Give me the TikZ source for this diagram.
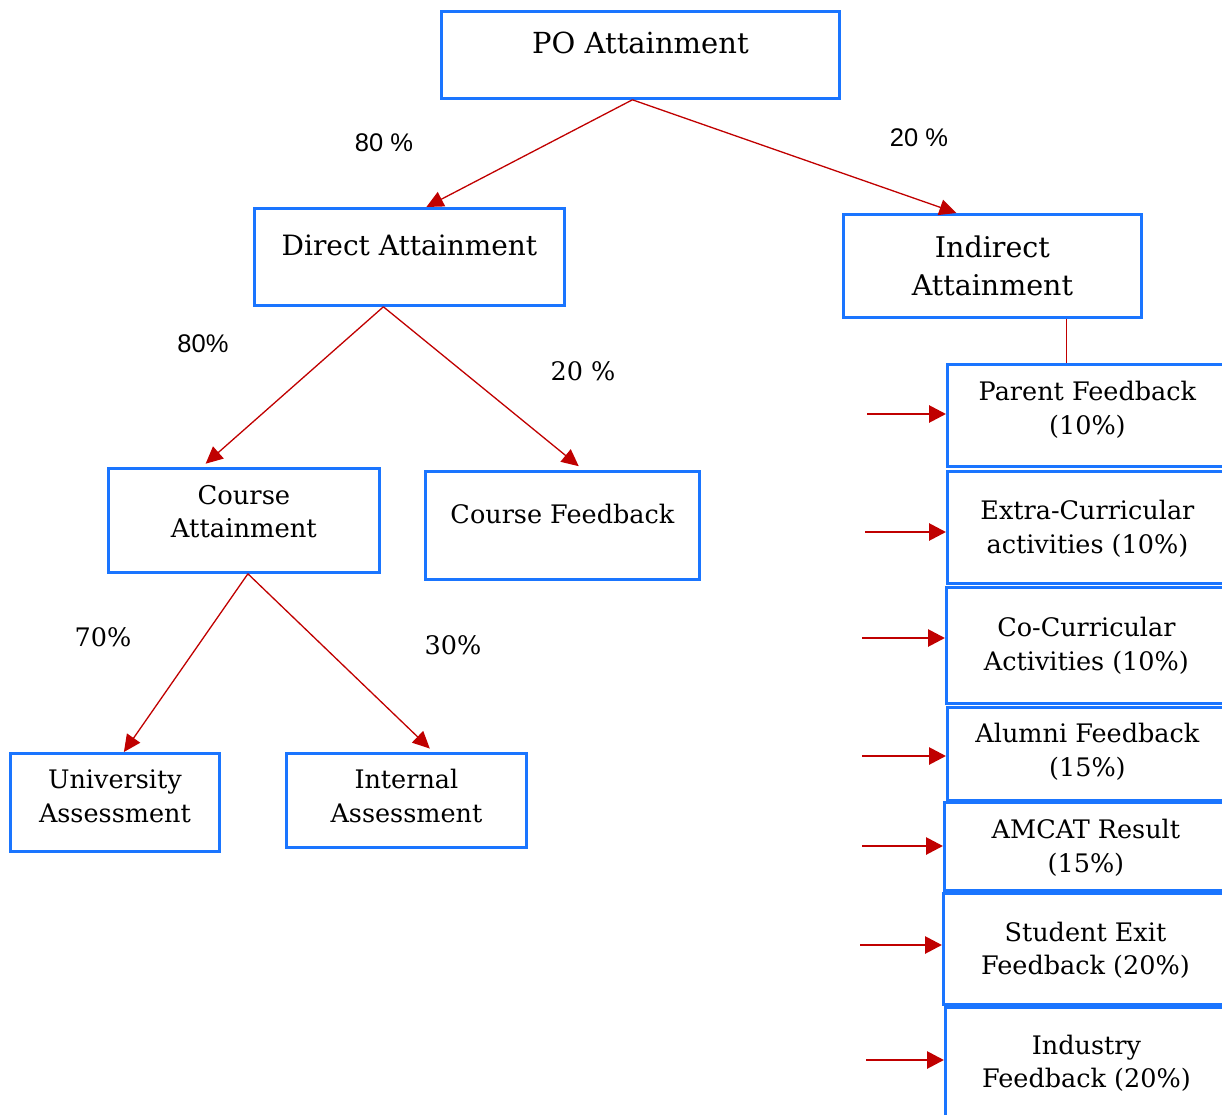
\documentclass[tikz,border=0pt]{standalone}
\usepackage{fontspec}
\setmainfont{DejaVu Serif}
\setsansfont{Liberation Sans}
\usetikzlibrary{positioning,arrows.meta}
\definecolor{boxblue}{RGB}{26,117,255}
\definecolor{arrred}{RGB}{192,0,0}
\newcommand{\boxfont}[2]{\fontsize{#1pt}{#2pt}\selectfont}
\newcommand{\twoline}[2]{\begin{tabular}[t]{@{}c@{}}#1\\#2\end{tabular}}
\tikzset{
  box/.style={draw=boxblue,line width=2.8pt,anchor=north west,inner xsep=0pt,inner ysep=0pt},
  tree/.style={draw=arrred,line width=1.3pt,-{Triangle[length=17pt,width=16pt]}},
  feed/.style={draw=arrred,line width=2.8pt,-{Triangle[length=17pt,width=17pt]}},
  pct/.style={font=\sffamily\boxfont{25.5}{30}},
  pctr/.style={font=\boxfont{25.5}{30}}
}
\begin{document}
\begin{tikzpicture}[x=1pt,y=-1pt]
\useasboundingbox (0,0) rectangle (1222,1115);
\clip (0,0) rectangle (1222,1115);
\node[box,minimum width=398pt,text height=42pt,text depth=45pt,font=\boxfont{29}{38}] (po) at (440,10) {PO Attainment};
\node[box,minimum width=310pt,text height=47pt,text depth=50pt,font=\boxfont{28}{36}] (dir) at (253,207) {Direct Attainment};
\node[box,minimum width=298pt,text height=43pt,text depth=60pt,font=\boxfont{28.5}{38}] (ind) at (842,213) {\twoline{Indirect}{Attainment}};
\node[box,minimum width=271pt,text height=36pt,text depth=68pt,font=\boxfont{25.8}{33}] (catt) at (107,467) {\twoline{Course}{Attainment}};
\node[box,minimum width=274pt,text height=52pt,text depth=56pt,font=\boxfont{25.5}{33}] (cfb) at (424,470) {Course Feedback};
\node[box,minimum width=209pt,text height=35pt,text depth=63pt,font=\boxfont{25.5}{34}] (univ) at (9,752) {\twoline{University}{Assessment}};
\node[box,minimum width=240pt,text height=35pt,text depth=59pt,font=\boxfont{25.5}{34}] (intr) at (285,752) {\twoline{Internal}{Assessment}};
\node[box,minimum width=280pt,text height=36pt,text depth=66pt,font=\boxfont{25.5}{34}] (par) at (946,363) {\twoline{Parent Feedback}{(10\%)}};
\node[box,minimum width=280pt,text height=48pt,text depth=64pt,font=\boxfont{25.5}{34}] (extra) at (946,470) {\twoline{Extra-Curricular}{activities (10\%)}};
\node[box,minimum width=280pt,text height=49pt,text depth=67pt,font=\boxfont{25.5}{34}] (cocur) at (945,586) {\twoline{Co-Curricular}{Activities (10\%)}};
\node[box,minimum width=280pt,text height=35pt,text depth=58pt,font=\boxfont{25.5}{34}] (alum) at (946,706) {\twoline{Alumni Feedback}{(15\%)}};
\node[box,minimum width=283pt,text height=36pt,text depth=52pt,font=\boxfont{25.5}{34}] (amcat) at (943,801) {\twoline{AMCAT Result}{(15\%)}};
\node[box,minimum width=284pt,text height=48pt,text depth=63pt,font=\boxfont{25.5}{33}] (stud) at (942,892) {\twoline{Student Exit}{Feedback (20\%)}};
\node[box,minimum width=282pt,text height=47pt,text depth=77pt,font=\boxfont{25.5}{33}] (indus) at (944,1006) {\twoline{Industry}{Feedback (20\%)}};

\node[pct] (p-po-dir) at (384,143) {80 \%};
\node[pct] (p-po-ind) at (919,138) {20 \%};
\node[pct] (p-dir-catt) at (203,344) {80\%};
\node[pctr] (p-dir-cfb) at (583,371) {20 \%};
\node[pctr] (p-catt-univ) at (103,637) {70\%};
\node[pctr] (p-catt-intr) at (453,645) {30\%};

\draw[tree] ([xshift=-8pt]po.south) -- ([xshift=17pt]dir.north);
\draw[tree] ([xshift=-8pt]po.south) -- ([xshift=-36pt]ind.north);
\draw[tree,shorten >=5pt] ([xshift=-26pt]dir.south) -- ([xshift=-42pt]catt.north);
\draw[tree,shorten >=6pt] ([xshift=-26pt]dir.south) -- ([xshift=21pt]cfb.north);
\draw[tree] ([xshift=4pt]catt.south) -- ([xshift=9pt]univ.north);
\draw[tree,shorten >=5pt] ([xshift=4pt]catt.south) -- ([xshift=27pt]intr.north);
\draw[draw=arrred,line width=1.3pt] ([xshift=74pt]ind.south) -- ([xshift=74pt]ind.south |- par.north);

\foreach \n/\x/\y in {par/867/414,extra/865/532,cocur/862/638,alum/862/756,amcat/862/846,stud/860/945,indus/866/1060}
  {\coordinate (a-\n) at (\x,\y);
   \draw[feed] (a-\n) -- (a-\n -| \n.west);}
\end{tikzpicture}
\end{document}
